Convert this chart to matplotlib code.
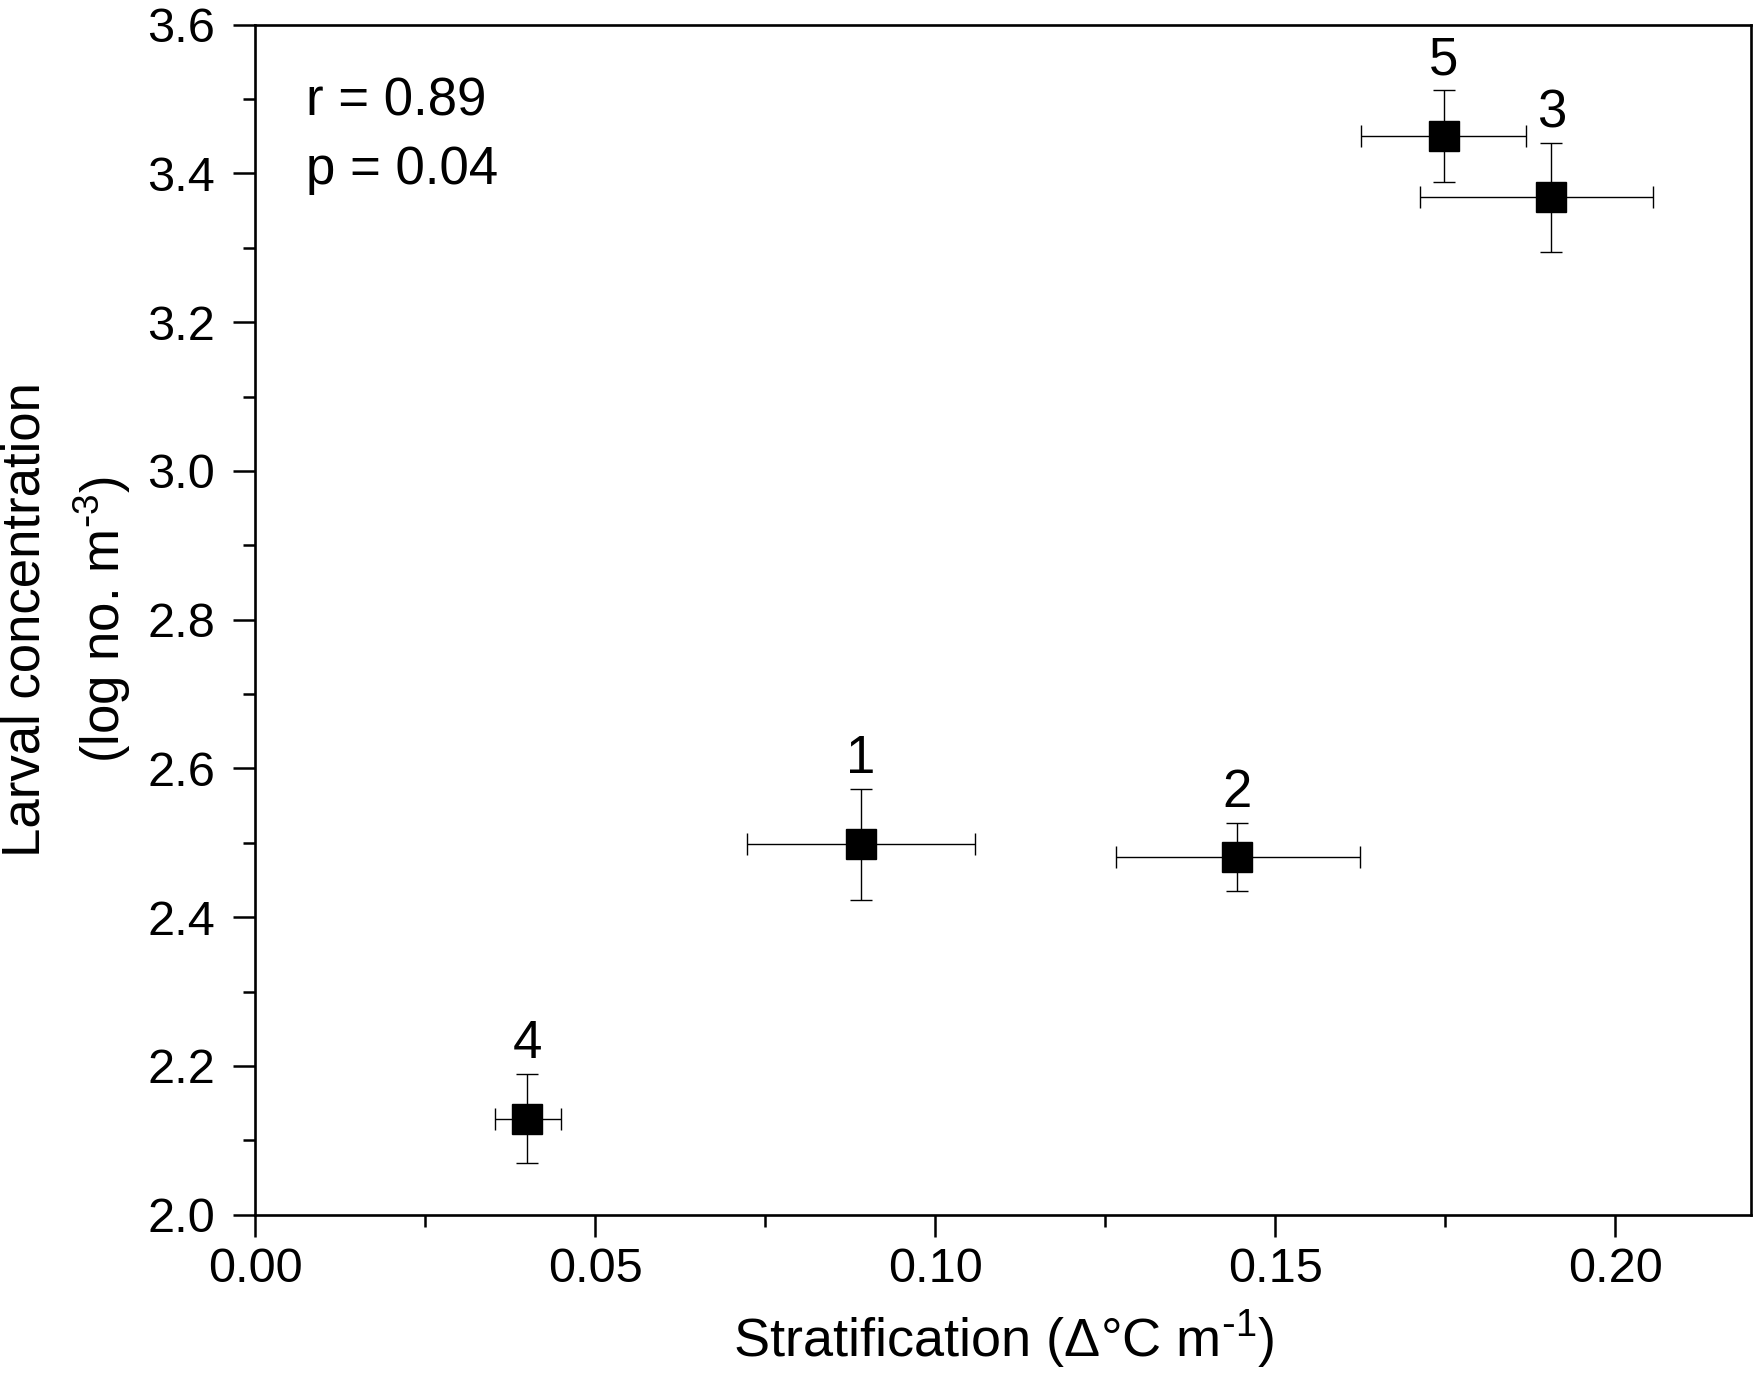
import matplotlib
matplotlib.use("Agg")
import matplotlib.pyplot as plt

plt.rcParams['font.family'] = ['Liberation Sans', 'DejaVu Sans']
plt.rcParams['mathtext.default'] = 'regular'

# Data
site_labels = ['1', '2', '3', '4', '5']
strat = [0.0890, 0.1443, 0.1906, 0.0400, 0.1748]
strat_err_low = [0.0167, 0.0178, 0.0193, 0.0048, 0.0122]
strat_err_high = [0.0168, 0.0181, 0.0150, 0.0049, 0.0120]
larval = [2.498, 2.481, 3.368, 2.129, 3.450]
larval_err = [0.075, 0.046, 0.073, 0.060, 0.062]

x_ticks = [0.00, 0.05, 0.10, 0.15, 0.20]
x_ticklabels = ['0.00', '0.05', '0.10', '0.15', '0.20']
y_ticks = [2.0, 2.2, 2.4, 2.6, 2.8, 3.0, 3.2, 3.4, 3.6]
y_ticklabels = ['2.0', '2.2', '2.4', '2.6', '2.8', '3.0', '3.2', '3.4', '3.6']

fig = plt.figure(figsize=(17.57, 13.78), dpi=100)
ax = fig.add_axes([0.1454, 0.1185, 0.8514, 0.8636])

ax.errorbar(strat, larval, xerr=[strat_err_low, strat_err_high], yerr=larval_err,
            fmt='s', color='black', markersize=22, ecolor='black',
            elinewidth=1.0, capsize=8, capthick=1.0, zorder=3)

for lab, x, y, ye in zip(site_labels, strat, larval, larval_err):
    ax.annotate(lab, (x, y + ye), xytext=(0, 3.5), textcoords='offset points',
                ha='center', va='bottom', fontsize=38)

ax.text(0.0337, 0.924, 'r = 0.89', transform=ax.transAxes, fontsize=38,
        ha='left', va='baseline')
ax.text(0.0337, 0.8665, 'p = 0.04', transform=ax.transAxes, fontsize=38,
        ha='left', va='baseline')

ax.set_xlim(0, 0.22)
ax.set_ylim(2.0, 3.6)
ax.set_xticks(x_ticks)
ax.set_xticklabels(x_ticklabels)
ax.set_yticks(y_ticks)
ax.set_yticklabels(y_ticklabels)
ax.set_xticks([0.025, 0.075, 0.125, 0.175], minor=True)
ax.set_yticks([2.1, 2.3, 2.5, 2.7, 2.9, 3.1, 3.3, 3.5], minor=True)

ax.tick_params(axis='both', which='major', direction='out', length=16,
               width=1.8, labelsize=35)
ax.tick_params(axis='both', which='minor', direction='out', length=8.5,
               width=1.8)
ax.tick_params(axis='x', which='major', pad=7)
ax.tick_params(axis='y', which='major', pad=13)

for s in ax.spines.values():
    s.set_linewidth(1.9)

ax.set_xlabel('Stratification (\u0394\u00b0C m$^{\\text{-}1}$)', fontsize=39, labelpad=12)
ax.set_ylabel('Larval concentration\n(log no. m$^{\\text{-}3}$)', fontsize=38,
              labelpad=10, linespacing=1.45)

fig.savefig('out.png', dpi=100)
